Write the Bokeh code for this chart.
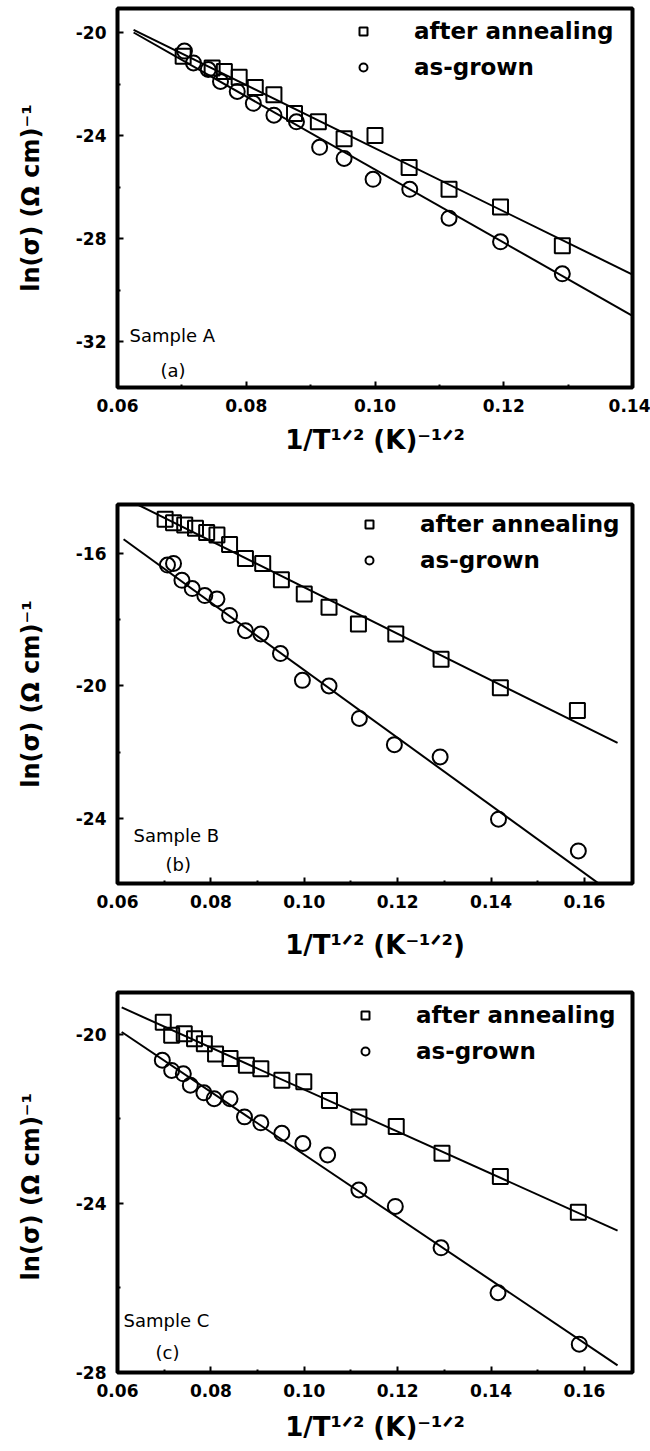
from bokeh.plotting import figure
from bokeh.models import (Range1d, FixedTicker, NumeralTickFormatter, Label,
                          Legend, LegendItem)
from bokeh.layouts import column
from bokeh.embed import file_html
from bokeh.resources import INLINE

FONT = "DejaVu Sans"

# ---------------- data: Sample A ----------------
a_x_anneal = [0.0702, 0.0747, 0.0766, 0.0789, 0.0814, 0.0843, 0.0875, 0.0912,
              0.0952, 0.1000, 0.1053, 0.1115, 0.1195, 0.1291]
a_y_anneal = [-20.92, -21.38, -21.51, -21.74, -22.14, -22.42, -23.15, -23.47,
              -24.13, -24.00, -25.24, -26.09, -26.78, -28.28]
a_x_grown = [0.0704, 0.0718, 0.0741, 0.0760, 0.0786, 0.0811, 0.0843, 0.0878,
             0.0914, 0.0952, 0.0997, 0.1054, 0.1115, 0.1195, 0.1291]
a_y_grown = [-20.72, -21.18, -21.44, -21.90, -22.29, -22.75, -23.21, -23.47,
             -24.46, -24.89, -25.70, -26.09, -27.21, -28.13, -29.37]
a_fit_x = [0.0625, 0.14]
a_fit_anneal = [-19.9, -29.4]
a_fit_grown = [-20.0, -31.0]
a_xticks = [0.06, 0.08, 0.10, 0.12, 0.14]
a_xminor = [0.07, 0.09, 0.11, 0.13]
a_yticks = [-20, -24, -28, -32]
a_yminor = [-22, -26, -30]

# ---------------- data: Sample B ----------------
b_x_anneal = [0.0702, 0.0720, 0.0744, 0.0767, 0.0791, 0.0813, 0.0840, 0.0874,
              0.0911, 0.0951, 0.1000, 0.1053, 0.1116, 0.1196, 0.1293, 0.1420,
              0.1585]
b_y_anneal = [-14.97, -15.07, -15.14, -15.24, -15.37, -15.44, -15.73, -16.15,
              -16.30, -16.79, -17.22, -17.62, -18.13, -18.43, -19.19, -20.05,
              -20.74]
b_x_grown = [0.0707, 0.0720, 0.0738, 0.0760, 0.0787, 0.0813, 0.0840, 0.0874,
             0.0907, 0.0949, 0.0996, 0.1053, 0.1118, 0.1193, 0.1291, 0.1416,
             0.1587]
b_y_grown = [-16.35, -16.30, -16.81, -17.06, -17.27, -17.37, -17.87, -18.33,
             -18.43, -19.02, -19.83, -20.00, -20.98, -21.77, -22.14, -24.02,
             -24.98]
b_fit_x_anneal = [0.0644, 0.1671]
b_fit_anneal = [-14.53, -21.72]
b_fit_x_grown = [0.0613, 0.1650]
b_fit_grown = [-15.57, -26.16]
bc_xticks = [0.06, 0.08, 0.10, 0.12, 0.14, 0.16]
bc_xminor = [0.07, 0.09, 0.11, 0.13, 0.15]
b_yticks = [-16, -20, -24]
b_yminor = [-18, -22]

# ---------------- data: Sample C ----------------
c_x_anneal = [0.0698, 0.0716, 0.0743, 0.0765, 0.0786, 0.0810, 0.0841, 0.0876,
              0.0907, 0.0952, 0.0999, 0.1054, 0.1117, 0.1197, 0.1295, 0.1420,
              0.1587]
c_y_anneal = [-19.71, -20.02, -19.98, -20.10, -20.22, -20.46, -20.57, -20.73,
              -20.81, -21.08, -21.12, -21.56, -21.95, -22.18, -22.81, -23.36,
              -24.21]
c_x_grown = [0.0696, 0.0716, 0.0741, 0.0756, 0.0785, 0.0807, 0.0841, 0.0872,
             0.0907, 0.0952, 0.0997, 0.1050, 0.1117, 0.1195, 0.1293, 0.1415,
             0.1589]
c_y_grown = [-20.61, -20.85, -20.93, -21.20, -21.38, -21.52, -21.52, -21.95,
             -22.09, -22.34, -22.58, -22.85, -23.68, -24.07, -25.05, -26.11,
             -27.33]
c_fit_x = [0.0609, 0.1671]
c_fit_anneal = [-19.36, -24.64]
c_fit_grown = [-19.94, -27.83]
c_yticks = [-20, -24, -28]
c_yminor = [-22, -26]

legend_labels = ["after annealing", "as-grown"]


def make_panel(height, borders, xr, yr, xticks, xminor, yticks, yminor,
               x_an, y_an, x_gr, y_gr, fx_an, fy_an, fx_gr, fy_gr,
               ylabel, xlabel, xlabel_standoff, legend_loc, sample_txt,
               sample_pos, letter_txt, letter_pos):
    top, bottom, left, right = borders
    p = figure(width=650, height=height, output_backend="svg",
               toolbar_location=None, x_range=Range1d(*xr),
               y_range=Range1d(*yr), min_border_top=top,
               min_border_bottom=bottom, min_border_left=left,
               min_border_right=right)
    p.grid.visible = False
    p.outline_line_color = "black"
    p.outline_line_width = 4
    p.background_fill_color = "white"
    p.border_fill_color = "white"

    for ax in (p.xaxis[0], p.yaxis[0]):
        ax.axis_line_color = None
        ax.major_tick_in = 6
        ax.major_tick_out = 0
        ax.minor_tick_in = 3
        ax.minor_tick_out = 0
        ax.major_tick_line_width = 2
        ax.minor_tick_line_width = 2
        ax.major_tick_line_color = "black"
        ax.minor_tick_line_color = "black"
        ax.major_label_text_font = FONT
        ax.major_label_text_font_style = "bold"
        ax.major_label_text_font_size = "17px"
        ax.major_label_text_color = "black"
        ax.axis_label_text_font = FONT
        ax.axis_label_text_font_style = "bold"
        ax.axis_label_text_color = "black"

    p.xaxis[0].ticker = FixedTicker(ticks=xticks, minor_ticks=xminor)
    p.xaxis[0].formatter = NumeralTickFormatter(format="0.00")
    p.xaxis[0].major_label_standoff = 11
    p.xaxis[0].axis_label = xlabel
    p.xaxis[0].axis_label_text_font_size = "26px"
    p.xaxis[0].axis_label_standoff = xlabel_standoff

    p.yaxis[0].ticker = FixedTicker(ticks=yticks, minor_ticks=yminor)
    p.yaxis[0].formatter = NumeralTickFormatter(format="0")
    p.yaxis[0].major_label_standoff = 11
    p.yaxis[0].axis_label = ylabel
    p.yaxis[0].axis_label_text_font_size = "24px"
    p.yaxis[0].axis_label_standoff = 28

    p.line(fx_an, fy_an, line_color="black", line_width=2)
    p.line(fx_gr, fy_gr, line_color="black", line_width=2)
    sq = p.scatter(x_an, y_an, marker="square", size=15, fill_color=None,
                   line_color="black", line_width=2)
    ci = p.scatter(x_gr, y_gr, marker="circle", size=15, fill_color=None,
                   line_color="black", line_width=2)

    legend = Legend(items=[LegendItem(label=legend_labels[0], renderers=[sq]),
                           LegendItem(label=legend_labels[1], renderers=[ci])],
                    location=legend_loc, border_line_color=None,
                    background_fill_alpha=0, padding=0, margin=0,
                    spacing=6, glyph_width=20, glyph_height=30,
                    label_height=30, label_standoff=41,
                    label_text_font=FONT, label_text_font_style="bold",
                    label_text_font_size="23px", label_text_color="black")
    p.add_layout(legend)

    p.add_layout(Label(x=sample_pos[0], y=sample_pos[1], x_units="screen",
                       y_units="screen", text=sample_txt, text_font=FONT,
                       text_font_size="18px", text_baseline="middle",
                       text_color="black"))
    p.add_layout(Label(x=letter_pos[0], y=letter_pos[1], x_units="screen",
                       y_units="screen", text=letter_txt, text_font=FONT,
                       text_font_size="18px", text_baseline="middle",
                       text_color="black"))
    return p


pA = make_panel(488, (8, 101, 112, 18), (0.06, 0.14), (-33.786, -19.068),
                a_xticks, a_xminor, a_yticks, a_yminor,
                a_x_anneal, a_y_anneal, a_x_grown, a_y_grown,
                a_fit_x, a_fit_anneal, a_fit_x, a_fit_grown,
                "ln(σ) (Ω cm)⁻¹", "1/T¹ᐟ² (K)⁻¹ᐟ²", 10, (236, 305),
                "Sample A", (12, 52), "(a)", (43, 17))

pB = make_panel(490, (16, 95, 117, 12), (0.06, 0.1703), (-25.962, -14.521),
                bc_xticks, bc_xminor, b_yticks, b_yminor,
                b_x_anneal, b_y_anneal, b_x_grown, b_y_grown,
                b_fit_x_anneal, b_fit_anneal, b_fit_x_grown, b_fit_grown,
                "ln(σ) (Ω cm)⁻¹", "1/T¹ᐟ² (K⁻¹ᐟ²)", 19, (242, 308),
                "Sample B", (16, 48), "(b)", (48, 19))

pC = make_panel(473, (14, 79, 117, 13), (0.06, 0.1703), (-28.0, -19.006),
                bc_xticks, bc_xminor, c_yticks, c_yminor,
                c_x_anneal, c_y_anneal, c_x_grown, c_y_grown,
                c_fit_x, c_fit_anneal, c_fit_x, c_fit_grown,
                "ln(σ)  (Ω cm)⁻¹", "1/T¹ᐟ² (K)⁻¹ᐟ²", 12, (238, 306),
                "Sample C", (6, 52), "(c)", (38, 20))

layout = column(pA, pB, pC)
open("out.html", "w").write(file_html(layout, INLINE))
